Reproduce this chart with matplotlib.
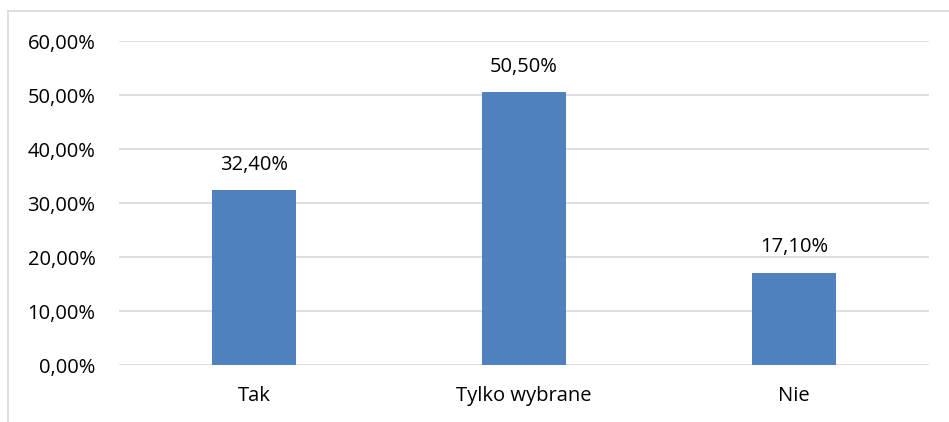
import matplotlib.pyplot as plt
from matplotlib.lines import Line2D

# dane
kategorie = ['Tak', 'Tylko wybrane', 'Nie']
wartosci = [32.40, 50.50, 17.10]
ticki_y = [0, 10, 20, 30, 40, 50, 60]

plt.rcParams['font.family'] = ['Open Sans', 'DejaVu Sans']

fig = plt.figure(figsize=(9.49, 4.22), dpi=100)
ax = fig.add_axes([119 / 949, 57 / 422, 810 / 949, 324 / 422])

x = range(len(kategorie))
ax.bar(x, wartosci, width=0.31, color='#4F81BD', zorder=3)

for xi, v in zip(x, wartosci):
    ax.annotate(f'{v:.2f}%'.replace('.', ','), (xi, v), xytext=(0, 11),
                textcoords='offset points', ha='center', va='bottom',
                fontsize=14.5, color='#000000')

ax.set_xlim(-0.5, 2.5)
ax.set_ylim(0, 60)
ax.set_yticks(ticki_y)
ax.set_yticklabels([f'{t:.2f}%'.replace('.', ',') for t in ticki_y])
ax.set_xticks(list(x))
ax.set_xticklabels(kategorie)
ax.tick_params(axis='both', length=0, labelsize=14.5, colors='#000000')
ax.tick_params(axis='y', pad=17)
ax.tick_params(axis='x', pad=15)

ax.grid(axis='y', color='#D9D9D9', linewidth=1.2, zorder=0)
for s in ax.spines.values():
    s.set_visible(False)

# ramka wykresu (obcięta z prawej i z dołu)
fig.add_artist(Line2D([7.5 / 949, 1.0], [1 - 11 / 422] * 2, color='#D9D9D9',
                      linewidth=1.2, transform=fig.transFigure))
fig.add_artist(Line2D([7.5 / 949] * 2, [0.0, 1 - 11 / 422], color='#D9D9D9',
                      linewidth=1.2, transform=fig.transFigure))

fig.savefig('out.png', dpi=100)
